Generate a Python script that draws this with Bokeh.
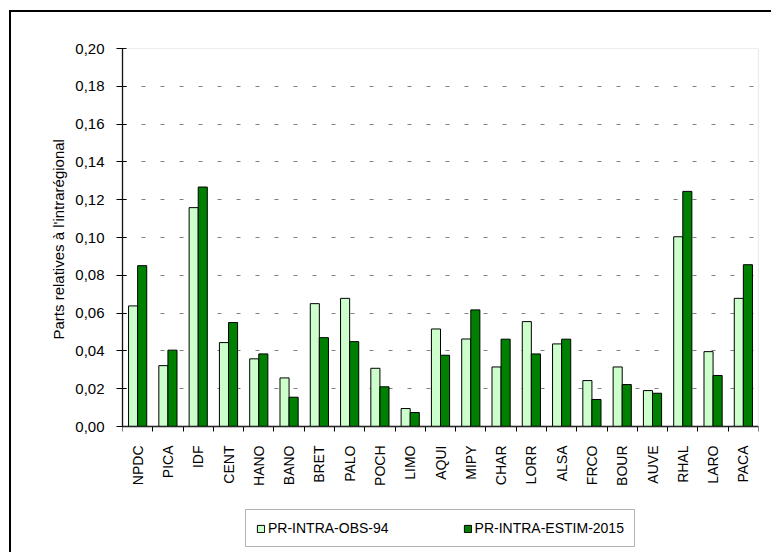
import numpy as np
from bokeh.plotting import figure
from bokeh.models import (ColumnDataSource, FixedTicker, CustomJSTickFormatter, LinearAxis,
                          Range1d, Legend, LegendItem, InlineStyleSheet, BoxAnnotation, Title)
from bokeh.embed import file_html
from bokeh.resources import INLINE

# ---- data ----
regions = ["NPDC", "PICA", "IDF", "CENT", "HANO", "BANO", "BRET", "PALO", "POCH", "LIMO",
           "AQUI", "MIPY", "CHAR", "LORR", "ALSA", "FRCO", "BOUR", "AUVE", "RHAL", "LARO", "PACA"]
obs_94 = [0.0638, 0.0322, 0.1158, 0.0444, 0.0358, 0.0257, 0.0650, 0.0678, 0.0308, 0.0095,
          0.0516, 0.0463, 0.0315, 0.0555, 0.0437, 0.0243, 0.0315, 0.0190, 0.1004, 0.0396, 0.0678]
estim_2015 = [0.0851, 0.0404, 0.1267, 0.0550, 0.0384, 0.0155, 0.0470, 0.0449, 0.0210, 0.0074,
              0.0377, 0.0617, 0.0462, 0.0384, 0.0462, 0.0143, 0.0222, 0.0176, 0.1244, 0.0270, 0.0856]
y_ticks = [0.00, 0.02, 0.04, 0.06, 0.08, 0.10, 0.12, 0.14, 0.16, 0.18, 0.20]
series_names = ["PR-INTRA-OBS-94", "PR-INTRA-ESTIM-2015"]
y_title = "Parts relatives à l'intrarégional"

FONT = "Liberation Sans"
W, H = 771, 552
Y_MAX = 0.20
# plot area: y=0 at 426 px, y=0.20 at 48 px; the frame continues down to 550 px
# so that the legend below the category labels stays inside it
px_per_unit = (426 - 48) / Y_MAX
y_start = -(550 - 426) / px_per_unit

n = len(regions)
idx = np.arange(n)
src = ColumnDataSource(dict(
    x1=idx + 0.35, x2=idx + 0.65, obs=obs_94, est=estim_2015))

p = figure(width=W, height=H, output_backend="svg", toolbar_location=None,
           x_range=Range1d(0, n), y_range=Range1d(y_start, Y_MAX),
           min_border_left=122, min_border_right=13, min_border_top=48, min_border_bottom=2)
# outer chart frame (only its left and top edges are inside the picture)
p.stylesheets = [InlineStyleSheet(css="""
:host::after {
  content: ""; position: absolute; left: 9px; top: 10px; right: 0; bottom: 0;
  border-left: 2px solid black; border-top: 2px solid black;
  pointer-events: none; box-sizing: border-box;
}
""")]
p.background_fill_color = "white"
p.border_fill_color = "white"
p.outline_line_color = None

r1 = p.vbar(x="x1", top="obs", width=0.3, source=src,
            fill_color="#CCFFCC", line_color="black", line_width=1)
r2 = p.vbar(x="x2", top="est", width=0.3, source=src,
            fill_color="#008000", line_color="black", line_width=1)

p.xgrid.grid_line_color = None
p.ygrid.grid_line_color = "#808080"
p.ygrid.grid_line_dash = "4 15"
p.ygrid.grid_line_width = 1.2

# grey border of the plot area (top and right edges)
p.add_layout(BoxAnnotation(left=0, right=n, bottom=0, top=Y_MAX, fill_alpha=0,
                           line_color="#808080", line_width=1.2))

# x axis: fixed at y=0, labels at centres, tick marks at category boundaries
xa = p.xaxis[0]
xa.fixed_location = 0
xa.ticker = FixedTicker(ticks=list(idx + 0.5), minor_ticks=list(range(n + 1)))
xa.major_label_overrides = {float(i + 0.5): regions[i] for i in range(n)}
xa.major_tick_in = 0
xa.major_tick_out = 0
xa.minor_tick_in = 0
xa.minor_tick_out = 5
xa.minor_tick_line_color = "black"
xa.axis_line_color = "black"
xa.axis_line_width = 1.3
xa.major_label_orientation = np.pi / 2
xa.major_label_standoff = 14
xa.major_label_text_font = FONT
xa.major_label_text_font_size = "14px"
xa.major_label_text_color = "black"

ya = p.yaxis[0]
ya.bounds = (0, Y_MAX)
ya.ticker = FixedTicker(ticks=y_ticks)
ya.formatter = CustomJSTickFormatter(code="return tick.toFixed(2).replace('.', ',');")
ya.major_tick_in = 4
ya.major_tick_out = 6
ya.minor_tick_out = 0
ya.minor_tick_in = 0
ya.major_tick_line_color = "black"
ya.axis_line_color = "black"
ya.axis_line_width = 1.3
ya.major_label_standoff = 12
ya.major_label_text_font = FONT
ya.major_label_text_font_size = "15px"
ya.major_label_text_color = "black"

# blank gap between the tick labels and the vertical axis title
gap = LinearAxis(ticker=FixedTicker(ticks=[]), axis_line_color=None,
                 major_tick_line_color=None, minor_tick_line_color=None,
                 major_tick_out=28, major_tick_in=0, minor_tick_out=0,
                 major_label_standoff=0)
p.add_layout(gap, "left")

# vertical axis title, centred on the 0..0.20 part of the frame
p.add_layout(Title(text=y_title, align="left", offset=211, vertical_align="middle",
                   text_font=FONT, text_font_size="15px", text_font_style="normal",
                   text_color="black"), "left")

legend = Legend(items=[LegendItem(label=series_names[0], renderers=[r1]),
                       LegendItem(label=series_names[1], renderers=[r2])],
                orientation="horizontal", location=(123, 3),
                padding=10, margin=0, spacing=74, glyph_width=9, glyph_height=9,
                label_standoff=3, label_text_font=FONT, label_text_font_size="14px",
                label_text_color="black", border_line_color="#666666",
                border_line_width=1.6, background_fill_color="white")
p.add_layout(legend, "center")

open("out.html", "w").write(file_html(p, INLINE))
